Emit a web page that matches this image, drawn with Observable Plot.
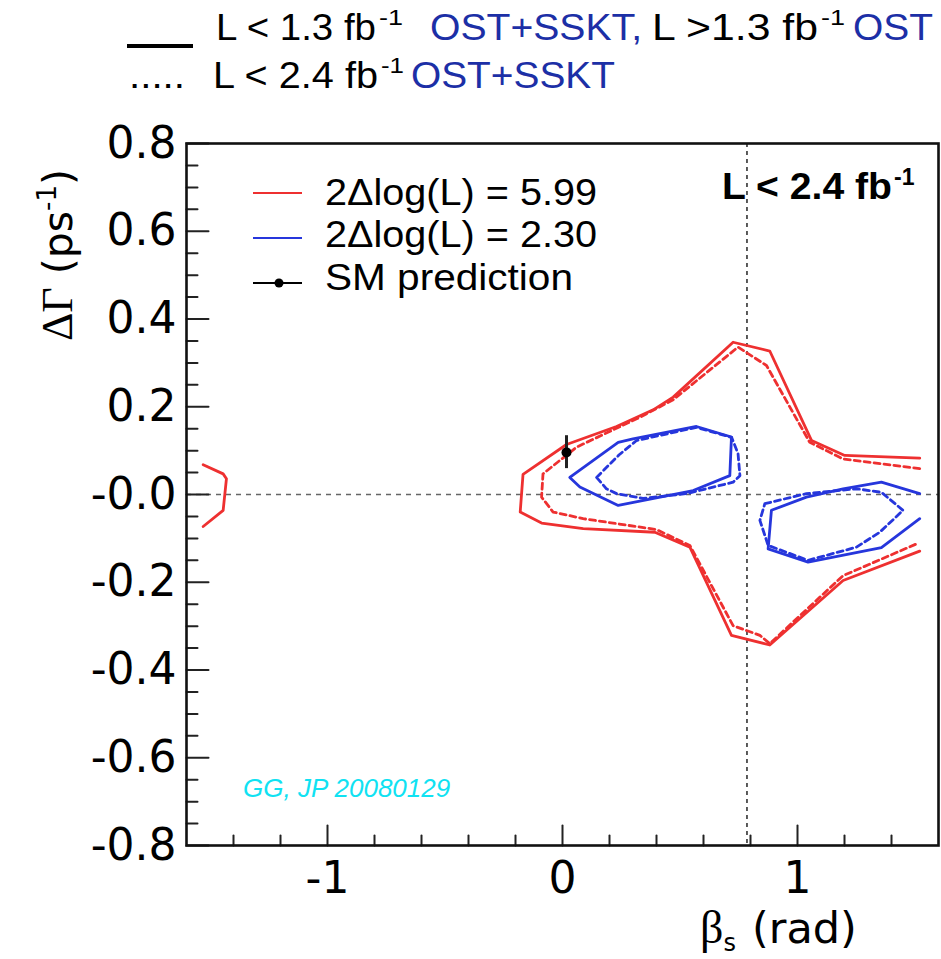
<!DOCTYPE html>
<html>
<head>
<meta charset="utf-8">
<script src="https://cdn.jsdelivr.net/npm/d3@7"></script>
<script src="https://cdn.jsdelivr.net/npm/@observablehq/plot@0.6"></script>
<style>
  body { margin: 0; background: #fff; }
  #wrap { width: 941px; }
  svg { display: block; }
</style>
</head>
<body>
<div id="wrap"></div>
<script>
// ---------- data (beta_s [rad], DeltaGamma [ps^-1]) ----------
const red95Solid = [
  [1.52, 0.083], [1.201, 0.089], [1.06, 0.123], [0.882, 0.327], [0.726, 0.347],
  [0.471, 0.222], [0.386, 0.193], [0.23, 0.155], [0.017, 0.114], [-0.168, 0.046],
  [-0.18, -0.04], [-0.089, -0.065], [0.088, -0.078], [0.393, -0.086], [0.542, -0.12],
  [0.719, -0.321], [0.882, -0.343], [1.194, -0.196], [1.52, -0.129]
];
const red95Dashed = [
  [1.52, 0.059], [1.194, 0.081], [1.052, 0.119], [0.868, 0.294], [0.747, 0.336],
  [0.471, 0.216], [0.329, 0.176], [0.06, 0.108], [-0.083, 0.047], [-0.089, -0.006],
  [-0.04, -0.04], [0.088, -0.055], [0.4, -0.08], [0.542, -0.116], [0.726, -0.299],
  [0.84, -0.321], [0.882, -0.34], [1.194, -0.185], [1.513, -0.111]
];
const red95Left = [
  [-1.529, 0.068], [-1.444, 0.047], [-1.43, 0.036], [-1.444, -0.036], [-1.529, -0.073]
];
const blue68SolidUpper = [
  [0.031, 0.039], [0.074, 0.017], [0.237, -0.025], [0.556, 0.009], [0.712, 0.043],
  [0.719, 0.131], [0.57, 0.155], [0.3, 0.127], [0.237, 0.119], [0.031, 0.039]
];
const blue68DashedUpper = [
  [0.145, 0.039], [0.24, 0.09], [0.315, 0.123], [0.57, 0.153], [0.72, 0.13],
  [0.747, 0.093], [0.755, 0.043], [0.726, 0.028], [0.528, 0.002], [0.343, -0.009],
  [0.23, 0.002], [0.187, 0.013], [0.145, 0.039]
];
const blue68SolidLower = [
  [1.52, 0.002], [1.357, 0.028], [1.194, 0.013], [1.038, -0.006], [0.889, -0.036],
  [0.875, -0.124], [1.045, -0.154], [1.357, -0.121], [1.52, -0.055]
];
const blue68DashedLower = [
  [0.861, -0.021], [1.038, 0.002], [1.251, 0.013], [1.357, 0.005], [1.449, -0.036],
  [1.35, -0.086], [1.251, -0.12], [1.045, -0.15], [0.875, -0.116], [0.84, -0.059],
  [0.861, -0.021]
];
const smPrediction = [{beta: 0.017, dg: 0.096, lo: 0.059, hi: 0.134}];
const refBeta = [0.785];
const refDG = [0];

const xDomain = [-1.6, 1.6];
const yDomain = [-0.8, 0.8];
const xTicksMajor = [-1, 0, 1];
const xTicksMinor = [-1.4, -1.2, -0.8, -0.6, -0.4, -0.2, 0.2, 0.4, 0.6, 0.8, 1.2, 1.4];
const yTicksMajor = [-0.8, -0.6, -0.4, -0.2, 0, 0.2, 0.4, 0.6, 0.8];
const yTicksMinor = [-0.75, -0.7, -0.65, -0.55, -0.5, -0.45, -0.35, -0.3, -0.25, -0.15, -0.1, -0.05,
                     0.05, 0.1, 0.15, 0.25, 0.3, 0.35, 0.45, 0.5, 0.55, 0.65, 0.7, 0.75];

const RED = "#ee3030";
const BLUE = "#2636dc";
const CYAN = "#10e2f2";
const HBLUE = "#1c2fa6";

// ---------- header (above the plot) ----------
const header = d3.select("#wrap").append("svg").attr("width", 941).attr("height", 100)
  .attr("text-anchor", "start")
  .style("font-family", "'Liberation Sans', Arial, sans-serif");
header.append("line").attr("x1", 127).attr("x2", 193).attr("y1", 46).attr("y2", 46)
  .attr("stroke", "#000").attr("stroke-width", 4);
function seg(x, y, str, len, color, size = 37) {
  const t = header.append("text").attr("x", x).attr("y", y).attr("font-size", size)
    .attr("fill", color).text(str);
  if (len) t.attr("textLength", len).attr("lengthAdjust", "spacingAndGlyphs");
  return t;
}
seg(216, 40, "L < 1.3 fb", 160, "#000");
seg(379, 25, "-1", 24, "#000", 22);
seg(430, 40, "OST+SSKT,", 212, HBLUE);
seg(652, 40, "L >1.3 fb", 166, "#000");
seg(821, 25, "-1", 24, "#000", 22);
seg(853, 40, "OST", 80, HBLUE);
seg(129, 88, ".....", 56, "#000");
seg(213, 88, "L < 2.4 fb", 165, "#000");
seg(381, 73, "-1", 23, "#000", 22);
seg(411, 88, "OST+SSKT", 204, HBLUE);

// ---------- plot ----------
const tickShape = {draw(ctx, l) { ctx.moveTo(0, 0); ctx.lineTo(0, -l); }};
const lineOpts = (color, dashed) => ({
  x: d => d[0], y: d => d[1], stroke: color, strokeWidth: 2.8,
  strokeDasharray: dashed ? "6,4" : null, curve: "linear"
});

const plot = Plot.plot({
  width: 941,
  height: 859,
  marginTop: 43,
  marginBottom: 114,
  marginLeft: 186,
  marginRight: 3,
  style: {fontFamily: "'DejaVu Sans', sans-serif", background: "#fff"},
  x: {domain: xDomain},
  y: {domain: yDomain},
  marks: [
    Plot.ruleY(refDG, {stroke: "#666", strokeWidth: 1.6, strokeDasharray: "5,5"}),
    Plot.ruleX(refBeta, {stroke: "#333", strokeWidth: 1.6, strokeDasharray: "4,4"}),
    Plot.line(red95Dashed, lineOpts(RED, true)),
    Plot.line(red95Solid, lineOpts(RED, false)),
    Plot.line(red95Left, lineOpts(RED, false)),
    Plot.line(blue68DashedUpper, lineOpts(BLUE, true)),
    Plot.line(blue68SolidUpper, lineOpts(BLUE, false)),
    Plot.line(blue68DashedLower, lineOpts(BLUE, true)),
    Plot.line(blue68SolidLower, lineOpts(BLUE, false)),
    Plot.ruleX(smPrediction, {x: "beta", y1: "lo", y2: "hi", stroke: "#222", strokeWidth: 3}),
    Plot.dot(smPrediction, {x: "beta", y: "dg", r: 5, fill: "#000"}),
    Plot.vector(yTicksMajor, {y: d => d, frameAnchor: "left", length: 22, rotate: 90, anchor: "start", shape: tickShape, stroke: "#222", strokeWidth: 2}),
    Plot.vector(yTicksMinor, {y: d => d, frameAnchor: "left", length: 11, rotate: 90, anchor: "start", shape: tickShape, stroke: "#222", strokeWidth: 2}),
    Plot.vector(xTicksMajor, {x: d => d, frameAnchor: "bottom", length: 20, rotate: 0, anchor: "start", shape: tickShape, stroke: "#222", strokeWidth: 2}),
    Plot.vector(xTicksMinor, {x: d => d, frameAnchor: "bottom", length: 10, rotate: 0, anchor: "start", shape: tickShape, stroke: "#222", strokeWidth: 2}),
    Plot.frame({stroke: "#111", strokeWidth: 2.6}),
    Plot.axisY({ticks: yTicksMajor, tickSize: 0, tickPadding: 10, fontSize: 44, fontFamily: "DejaVu Sans", label: null,
      tickFormat: d => Math.abs(d) < 1e-9 ? "-0.0" : d.toFixed(1)}),
    Plot.axisX({ticks: xTicksMajor, tickSize: 0, tickPadding: 16, fontSize: 44, fontFamily: "DejaVu Sans", label: null,
      tickFormat: d => String(d)})
  ]
});
document.getElementById("wrap").appendChild(plot);

// ---------- annotations & legend (pixel layout, svg coords = page - 100) ----------
const svg = d3.select(plot);
const ann = svg.append("g").attr("text-anchor", "start")
  .style("font-family", "'Liberation Sans', Arial, sans-serif");

// legend
const lg = [
  {y: 93, ty: 105, color: RED, label: "2\u0394log(L) = 5.99", len: 272},
  {y: 138, ty: 147, color: BLUE, label: "2\u0394log(L) = 2.30", len: 272},
  {y: 183, ty: 190, color: "#000", label: "SM prediction", len: 248}
];
lg.forEach((d, i) => {
  ann.append("line").attr("x1", 253).attr("x2", 302).attr("y1", d.y).attr("y2", d.y)
    .attr("stroke", d.color).attr("stroke-width", i === 2 ? 2 : 2.2);
  ann.append("text").attr("x", 325).attr("y", d.ty).attr("font-size", 37).attr("fill", "#000")
    .attr("textLength", d.len).attr("lengthAdjust", "spacingAndGlyphs").text(d.label);
});
ann.append("circle").attr("cx", 279).attr("cy", 183).attr("r", 4.5).attr("fill", "#000");

// top-right luminosity label
ann.append("text").attr("x", 722).attr("y", 99).attr("font-size", 37).attr("font-weight", "bold").attr("fill", "#000")
  .attr("textLength", 170).attr("lengthAdjust", "spacingAndGlyphs").text("L < 2.4 fb");
ann.append("text").attr("x", 894).attr("y", 85).attr("font-size", 23).attr("font-weight", "bold").attr("fill", "#000").text("-1");

// author stamp
ann.append("text").attr("x", 243).attr("y", 697).attr("font-size", 26).attr("font-style", "italic")
  .attr("fill", CYAN).text("GG, JP 20080129");

// y axis title
const yl = svg.append("text").attr("transform", "translate(72,155) rotate(-90)")
  .attr("text-anchor", "middle").attr("font-size", 41).attr("fill", "#000")
  .style("font-family", "'DejaVu Sans', sans-serif");
yl.append("tspan").style("font-family", "'Liberation Serif', serif").attr("font-size", 44).text("\u0394\u0393");
yl.append("tspan").text(" (ps");
yl.append("tspan").attr("font-size", 26).attr("dy", -16).text("-1");
yl.append("tspan").attr("dy", 16).text(")");

// x axis title
const xl = svg.append("text").attr("y", 843).attr("font-size", 43).attr("fill", "#000")
  .attr("text-anchor", "start")
  .style("font-family", "'DejaVu Sans', sans-serif");
xl.append("tspan").attr("x", 700).style("font-family", "'Liberation Serif', serif").attr("font-size", 46).text("\u03B2");
xl.append("tspan").attr("font-size", 24).attr("dy", 8).text("s");
xl.append("tspan").attr("x", 752).attr("dy", -8).text("(rad)");
</script>
</body>
</html>
